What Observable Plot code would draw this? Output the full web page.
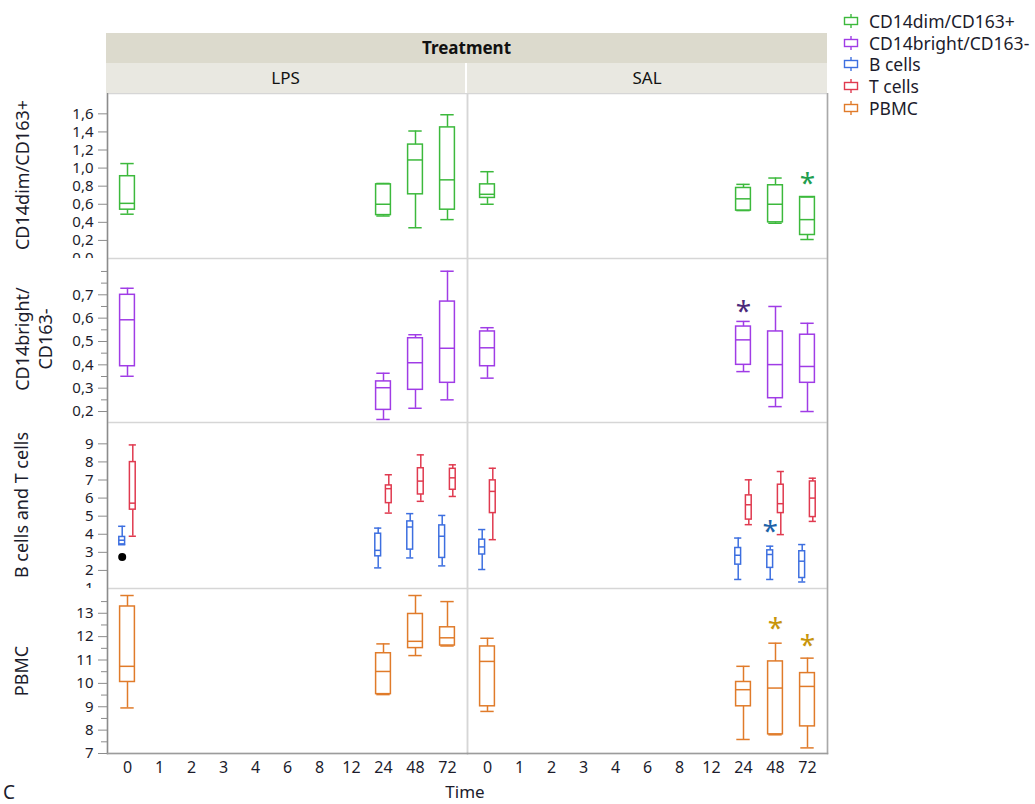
<!DOCTYPE html>
<html>
<head>
<meta charset="utf-8">
<script src="https://cdn.jsdelivr.net/npm/d3@7"></script>
<script src="https://cdn.jsdelivr.net/npm/@observablehq/plot@0.6"></script>
<style>
  body { margin: 0; background: #fff; font-family: "Noto Sans", sans-serif; color: #1c1c2c; }
  #root { position: relative; width: 1035px; height: 804px; overflow: hidden; background: #fff; }
  .abs { position: absolute; }
  .band { position: absolute; text-align: center; font-size: 17px; color: #111; }
  .ytitle { position: absolute; transform: translate(-50%, -50%) rotate(-90deg); white-space: nowrap; font-size: 18px; text-align: center; line-height: 23px; color: #1c1c2c; }
  .legend-item { position: absolute; left: 843px; height: 20px; display: flex; align-items: center; font-size: 17.5px; line-height: 20px; white-space: nowrap; color: #1c1c2c; }
  .legend-item svg { margin-right: 10px; }
</style>
</head>
<body>
<div id="root"></div>
<script>
// ---------------- data ----------------
const times = ["0","1","2","3","4","6","8","12","24","48","72"];
const boxTimes = ["0","24","48","72"];
const treatments = ["LPS","SAL"];
const seriesNames = ["CD14dim/CD163+","CD14bright/CD163-","B cells","T cells","PBMC"];
const seriesColors = ["#3cb93c","#a03ce6","#3d6fe0","#e03a4f","#e07b2a"];
const rowTitles = ["CD14dim/CD163+","CD14bright/\nCD163-","B cells and T cells","PBMC"];

// each entry: [min, q1, median, q3, max] at boxTimes
const cd14dimLPS    = [[0.49,0.54,0.61,0.91,1.05],[0.47,0.48,0.60,0.82,0.83],[0.34,0.71,1.09,1.26,1.41],[0.43,0.54,0.87,1.45,1.59]];
const cd14dimSAL    = [[0.60,0.67,0.71,0.82,0.96],[0.53,0.53,0.66,0.78,0.82],[0.39,0.40,0.60,0.81,0.89],[0.21,0.26,0.43,0.68,0.68]];
const cd14brightLPS = [[0.351,0.394,0.593,0.700,0.728],[0.166,0.207,0.302,0.329,0.364],[0.214,0.293,0.409,0.514,0.529],[0.250,0.323,0.471,0.671,0.801]];
const cd14brightSAL = [[0.343,0.394,0.473,0.543,0.559],[0.371,0.400,0.507,0.564,0.586],[0.221,0.257,0.401,0.543,0.650],[0.200,0.323,0.393,0.529,0.578]];
const bCellsLPS     = [[3.42,3.44,3.67,3.85,4.44],[2.14,2.78,3.11,4.03,4.34],[2.69,3.15,4.40,4.71,5.14],[2.25,2.69,3.89,4.49,5.04]];
const bCellsSAL     = [[2.05,2.88,3.30,3.70,4.26],[1.50,2.32,2.84,3.24,3.79],[1.50,2.14,2.88,3.11,3.34],[1.36,1.58,2.51,3.06,3.43]];
const tCellsLPS     = [[3.89,5.36,5.72,7.99,8.94],[5.17,5.72,6.52,6.70,7.29],[5.82,6.20,6.94,7.65,8.39],[6.09,6.46,7.12,7.62,7.84]];
const tCellsSAL     = [[3.70,5.17,6.37,6.98,7.65],[4.53,4.81,5.63,6.15,7.01],[3.98,5.17,5.69,6.74,7.47],[4.71,4.95,6.00,6.92,7.10]];
const pbmcLPS       = [[8.95,10.06,10.73,13.29,13.76],[9.52,9.54,10.51,11.29,11.69],[11.19,11.51,11.80,12.97,13.76],[11.60,11.62,11.95,12.40,13.50]];
const pbmcSAL       = [[8.80,9.02,10.94,11.58,11.93],[7.60,9.02,9.73,10.06,10.73],[7.80,7.82,9.80,10.94,11.72],[7.24,8.16,9.87,10.44,11.08]];

// outlier (B cells, LPS, time 0)
const outlierTreatment = ["LPS"];
const outlierTimes = ["0"];
const outlierValues = [2.74];

// significance asterisks (all in SAL)
const starSeries = ["CD14dim/CD163+","CD14bright/CD163-","B cells","PBMC","PBMC"];
const starTimes  = ["72","24","48","48","72"];
const starValues = [0.885, 0.654, 4.44, 12.57, 11.86];
const starColors = ["#1f9e4f","#4b2a7b","#1c62a8","#c8950c","#c8950c"];

// axis ticks
const ticksRow1 = [0,0.2,0.4,0.6,0.8,1.0,1.2,1.4,1.6];
const ticksRow2 = [0.2,0.3,0.4,0.5,0.6,0.7];
const minorRow2 = [0.25,0.35,0.45,0.55,0.65,0.75,0.8];
const ticksRow3 = [1,2,3,4,5,6,7,8,9];
const ticksRow4 = [7,8,9,10,11,12,13];
const minorRow4 = [7.5,8.5,9.5,10.5,11.5,12.5,13.5];

// ---------------- build ----------------
function boxes(series, lps, sal) {
  const out = [];
  [[ "LPS", lps ], [ "SAL", sal ]].forEach(([t, arr]) => {
    arr.forEach((v, i) => out.push({treatment: t, time: boxTimes[i], series,
      min: v[0], q1: v[1], median: v[2], q3: v[3], max: v[4]}));
  });
  return out;
}
const colorOf = s => seriesColors[seriesNames.indexOf(s)];
const stars = starSeries.map((s, i) => ({series: s, treatment: "SAL", time: starTimes[i], value: starValues[i], color: starColors[i]}));
const outliers = outlierTimes.map((t, i) => ({treatment: outlierTreatment[i], time: t, value: outlierValues[i]}));

const commaFmt = d => d.toFixed(1).replace(".", ",");

const rows = [
  { top: 93, height: 165, domain: [0, 1.825], major: ticksRow1, minor: null, fmt: commaFmt,
    groups: [{data: boxes("CD14dim/CD163+", cd14dimLPS, cd14dimSAL), series: "CD14dim/CD163+", dx: 0}],
    boxInset: 8.6, capInset: 9.3 },
  { top: 258, height: 164, domain: [0.153, 0.8555], major: ticksRow2, minor: minorRow2, fmt: commaFmt,
    groups: [{data: boxes("CD14bright/CD163-", cd14brightLPS, cd14brightSAL), series: "CD14bright/CD163-", dx: 0}],
    boxInset: 8.6, capInset: 9.3 },
  { top: 422, height: 166, domain: [1, 10.18], major: ticksRow3, minor: null, fmt: d => String(d),
    groups: [{data: boxes("B cells", bCellsLPS, bCellsSAL), series: "B cells", dx: -5.3},
             {data: boxes("T cells", tCellsLPS, tCellsSAL), series: "T cells", dx: 5.3}],
    boxInset: 13.1, capInset: 12.4, outliers: true },
  { top: 588, height: 165, domain: [7, 14.06], major: ticksRow4, minor: minorRow4, fmt: d => String(d),
    groups: [{data: boxes("PBMC", pbmcLPS, pbmcSAL), series: "PBMC", dx: 0}],
    boxInset: 8.6, capInset: 9.3, last: true }
];

const root = document.getElementById("root");

// header bands
function band(left, top, width, height, bg, text, bold) {
  const d = document.createElement("div");
  d.className = "band";
  Object.assign(d.style, {left: left + "px", top: top + "px", width: width + "px", height: height + "px",
    background: bg, lineHeight: height + "px", fontWeight: bold ? "700" : "400"});
  d.textContent = text;
  root.appendChild(d);
}
band(106, 33, 721, 30, "#dcdacd", "Treatment", true);
band(106, 63, 359, 30, "#e9e8e1", treatments[0], false);
band(467, 63, 360, 30, "#e9e8e1", treatments[1], false);

rows.forEach(row => {
  const marks = [
    Plot.frame({stroke: "#d6d6d6", strokeWidth: 1.5}),
    Plot.frame({anchor: "left", stroke: "#8c8c8c", strokeWidth: 1.5, facetAnchor: "left"}),
    Plot.frame({anchor: "right", stroke: "#a9a9a9", strokeWidth: 1.5, facetAnchor: "right"})
  ];
  if (row.last) marks.push(Plot.frame({anchor: "bottom", stroke: "#9c9c9c", strokeWidth: 1.5}));
  marks.push(Plot.axisY({ticks: row.major, tickFormat: row.fmt, tickSize: 9, tickPadding: 5, fontSize: 15,
    stroke: "#8c8c8c", fill: "#1c1c2c", label: null}));
  if (row.minor) marks.push(Plot.axisY({ticks: row.minor, tickFormat: () => "", tickSize: 6,
    stroke: "#8c8c8c", label: null}));
  row.groups.forEach(g => {
    const c = colorOf(g.series);
    const common = {fx: "treatment", x: "time", stroke: c, strokeWidth: 1.5, dx: g.dx};
    marks.push(Plot.ruleX(g.data, {...common, y1: "min", y2: "q1"}));
    marks.push(Plot.ruleX(g.data, {...common, y1: "q3", y2: "max"}));
    marks.push(Plot.barY(g.data, {...common, y1: "q1", y2: "q3", fill: "none",
      insetLeft: row.boxInset, insetRight: row.boxInset}));
    marks.push(Plot.tickY(g.data, {...common, y: "median", insetLeft: row.boxInset, insetRight: row.boxInset}));
    marks.push(Plot.tickY(g.data, {...common, y: "min", insetLeft: row.capInset, insetRight: row.capInset}));
    marks.push(Plot.tickY(g.data, {...common, y: "max", insetLeft: row.capInset, insetRight: row.capInset}));
    if (row.outliers && g.series === "B cells") {
      marks.push(Plot.dot(outliers, {fx: "treatment", x: "time", y: "value", r: 4, fill: "black", stroke: "none", dx: g.dx}));
    }
    stars.filter(s => s.series === g.series).forEach(s => {
      marks.push(Plot.text([s], {fx: "treatment", x: "time", y: "value", text: () => "*",
        fill: s.color, fontSize: 28, dx: g.dx, dy: 6}));
    });
  });
  if (row.last) marks.push(Plot.axisX({tickSize: 0, tickPadding: 8, fontSize: 16, fill: "#1c1c2c", label: null}));

  const mb = row.last ? 32 : 0;
  const chart = Plot.plot({
    width: 830,
    height: row.height + mb,
    marginLeft: 106, marginRight: 3, marginTop: 0, marginBottom: mb,
    style: {fontFamily: "Noto Sans", background: "white", color: "#1c1c2c"},
    fx: {domain: treatments, padding: 0, axis: null},
    x: row.last ? {domain: times, padding: 0} : {domain: times, padding: 0, axis: null},
    y: {domain: row.domain},
    marks
  });
  chart.style.position = "absolute";
  chart.style.left = "0px";
  chart.style.top = row.top + "px";
  root.appendChild(chart);
});

// y titles
const titlePos = [[22, 175], [33.5, 339], [21, 505], [21, 671]];
rowTitles.forEach((t, i) => {
  const d = document.createElement("div");
  d.className = "ytitle";
  d.style.left = titlePos[i][0] + "px";
  d.style.top = titlePos[i][1] + "px";
  d.innerHTML = t.split("\n").map(s => s.replace(/&/g,"&amp;").replace(/</g,"&lt;")).join("<br>");
  root.appendChild(d);
});

// x title and panel letter
const xt = document.createElement("div");
xt.className = "abs";
Object.assign(xt.style, {left: "465px", top: "792px", transform: "translate(-50%,-50%)", fontSize: "17px", lineHeight: "20px"});
xt.textContent = "Time";
root.appendChild(xt);
const letter = document.createElement("div");
letter.className = "abs";
Object.assign(letter.style, {left: "3px", top: "792px", transform: "translate(0,-50%)", fontSize: "19px", lineHeight: "22px"});
letter.textContent = "C";
root.appendChild(letter);

// legend
const legendY = [21, 42.5, 64, 86, 107.5];
seriesNames.forEach((s, i) => {
  const item = d3.select(root).append("div").attr("class", "legend-item")
    .style("top", (legendY[i] - 10) + "px");
  const svg = item.append("svg").attr("width", 16).attr("height", 14);
  const c = seriesColors[i];
  svg.append("rect").attr("x", 1.5).attr("y", 3.5).attr("width", 13).attr("height", 7)
    .attr("fill", "none").attr("stroke", c).attr("stroke-width", 1.4);
  svg.append("line").attr("x1", 8).attr("x2", 8).attr("y1", 0).attr("y2", 3.5).attr("stroke", c).attr("stroke-width", 1.4);
  svg.append("line").attr("x1", 8).attr("x2", 8).attr("y1", 10.5).attr("y2", 14).attr("stroke", c).attr("stroke-width", 1.4);
  item.append("span").text(s);
});
</script>
</body>
</html>
